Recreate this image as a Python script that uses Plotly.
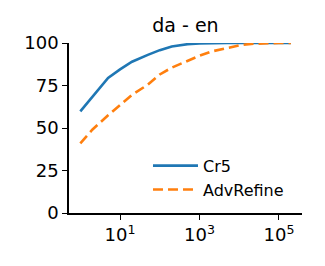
import plotly.graph_objects as go

x_vals = [1, 2, 5, 10, 20, 50, 100, 200, 500, 1000, 2000, 5000, 10000, 20000, 50000, 100000, 200000]
cr5 = [59.8, 68.5, 79.5, 84.5, 89.0, 93.0, 95.8, 98.0, 99.3, 99.8, 100, 100, 100, 100, 100, 100, 100]
advrefine = [41.0, 49.0, 57.5, 63.5, 69.5, 75.5, 81.5, 85.5, 89.5, 92.5, 95.0, 97.3, 98.6, 99.5, 100, 100, 100]

title_text = "da - en"
y_ticks = [0, 25, 50, 75, 100]
x_tickvals = [10, 1000, 100000]
x_ticktext = ["10<sup>1</sup>", "10<sup>3</sup>", "10<sup>5</sup>"]

font_family = "DejaVu Sans"

fig = go.Figure()
fig.add_trace(go.Scatter(x=x_vals, y=cr5, mode="lines", name="Cr5",
                         line=dict(color="#1f77b4", width=2.6), cliponaxis=False))
fig.add_trace(go.Scatter(x=x_vals, y=advrefine, mode="lines", name="AdvRefine",
                         line=dict(color="#ff7f0e", width=2.6, dash="10px,5px"), cliponaxis=False))

fig.update_layout(
    width=325, height=266,
    margin=dict(l=69, r=23, t=43, b=53),
    paper_bgcolor="white", plot_bgcolor="white",
    font=dict(family=font_family, color="black", size=18),
    title=dict(text=title_text, x=0.5707, xanchor="center", y=0.905, yanchor="middle",
               font=dict(size=19, family=font_family, color="black")),
    legend=dict(x=0.339, y=0.378, xanchor="left", yanchor="top",
                bgcolor="rgba(0,0,0,0)", font=dict(size=16, family=font_family),
                tracegroupgap=0, itemwidth=45),
    showlegend=True,
)
fig.update_xaxes(type="log", range=[-0.285, 5.58], tickvals=x_tickvals, ticktext=x_ticktext,
                 showgrid=False, zeroline=False, showline=True, linecolor="black", linewidth=1.5,
                 ticks="outside", ticklen=5, tickwidth=1.3, tickcolor="black",
                 tickfont=dict(size=18, family=font_family))
fig.update_yaxes(range=[0, 100], tickvals=y_ticks, showgrid=False, zeroline=False,
                 showline=True, linecolor="black", linewidth=1.5,
                 ticks="outside", ticklen=5, tickwidth=1.3, tickcolor="black",
                 tickfont=dict(size=18, family=font_family))

fig.write_html("out.html")
